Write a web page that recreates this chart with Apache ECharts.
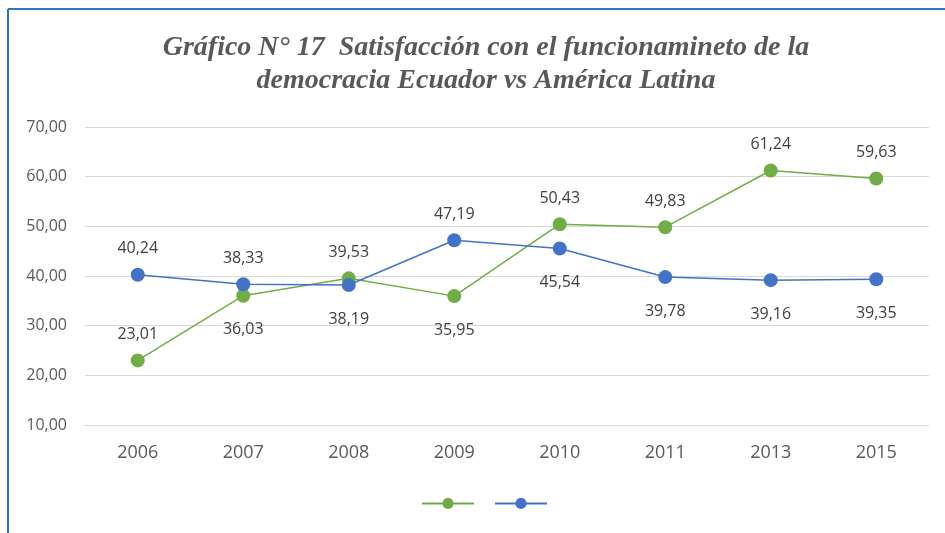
<!DOCTYPE html>
<html>
<head>
    <meta charset="UTF-8">
    <style type="text/css">
        html, body { margin: 0; padding: 0; background: #fff; }
        #chart { width: 945px; height: 533px; }
    </style>
</head>
<body>
    <div id="chart"></div>
    <script src="https://cdn.jsdelivr.net/npm/echarts@6/dist/echarts.min.js"></script>
    <script type="text/javascript">
        var years = ['2006', '2007', '2008', '2009', '2010', '2011', '2013', '2015'];
        var greenValues = [23.01, 36.03, 39.53, 35.95, 50.43, 49.83, 61.24, 59.63];
        var blueValues = [40.24, 38.33, 38.19, 47.19, 45.54, 39.78, 39.16, 39.35];
        // which side each value label sits on
        var greenSides = ['top', 'bottom', 'top', 'bottom', 'top', 'top', 'top', 'top'];
        var blueSides = ['top', 'top', 'bottom', 'top', 'bottom', 'bottom', 'bottom', 'bottom'];

        function fmt(v) {
            return v.toFixed(2).replace('.', ',');
        }

        function withLabels(values, sides) {
            return values.map(function (v, i) {
                return {
                    value: v,
                    label: { position: sides[i], distance: sides[i] === 'top' ? 11 : 19 }
                };
            });
        }

        var labelStyle = {
            show: true, color: '#404040', fontSize: 16, fontFamily: 'Open Sans',
            formatter: function (p) { return fmt(p.value); }
        };

        var chart = echarts.init(document.getElementById('chart'));
        chart.setOption({
            backgroundColor: '#fff',
            animation: false,
            title: {
                text: 'Gráfico N° 17  Satisfacción con el funcionamineto de la\ndemocracia Ecuador vs América Latina',
                left: 481,
                textAlign: 'center',
                top: 26,
                textStyle: {
                    fontFamily: 'Liberation Serif',
                    fontStyle: 'italic',
                    fontWeight: 'bold',
                    fontSize: 28,
                    lineHeight: 33,
                    color: '#595959'
                }
            },
            graphic: [
                { type: 'line', shape: { x1: 8, y1: 9, x2: 945, y2: 9 }, style: { stroke: '#2e75b6', lineWidth: 2 } },
                { type: 'line', shape: { x1: 8, y1: 9, x2: 8, y2: 533 }, style: { stroke: '#2e75b6', lineWidth: 2 } }
            ],
            legend: {
                bottom: 19,
                left: 416,
                itemWidth: 52,
                itemHeight: 14,
                itemGap: 19,
                formatter: function () { return ''; },
                data: ['Ecuador', 'América Latina']
            },
            grid: { left: 85, right: 16, top: 127, bottom: 108 },
            xAxis: {
                type: 'category',
                data: years,
                axisLine: { lineStyle: { color: '#d9d9d9' } },
                axisTick: { show: false },
                axisLabel: { color: '#595959', fontSize: 18, margin: 19, fontFamily: 'Open Sans' }
            },
            yAxis: {
                type: 'value',
                min: 10,
                max: 70,
                interval: 10,
                axisLine: { show: false },
                axisTick: { show: false },
                splitLine: { lineStyle: { color: '#d9d9d9', width: 1 } },
                axisLabel: {
                    color: '#595959', fontSize: 16, margin: 18, fontFamily: 'Open Sans',
                    formatter: function (v) { return fmt(v); }
                }
            },
            series: [
                {
                    name: 'Ecuador',
                    type: 'line',
                    data: withLabels(greenValues, greenSides),
                    color: '#70ad47',
                    symbol: 'circle',
                    symbolSize: 14,
                    lineStyle: { width: 1.5 },
                    label: labelStyle
                },
                {
                    name: 'América Latina',
                    type: 'line',
                    data: withLabels(blueValues, blueSides),
                    color: '#4472c4',
                    symbol: 'circle',
                    symbolSize: 14,
                    lineStyle: { width: 1.5 },
                    label: labelStyle
                }
            ]
        });
    </script>
</body>
</html>
